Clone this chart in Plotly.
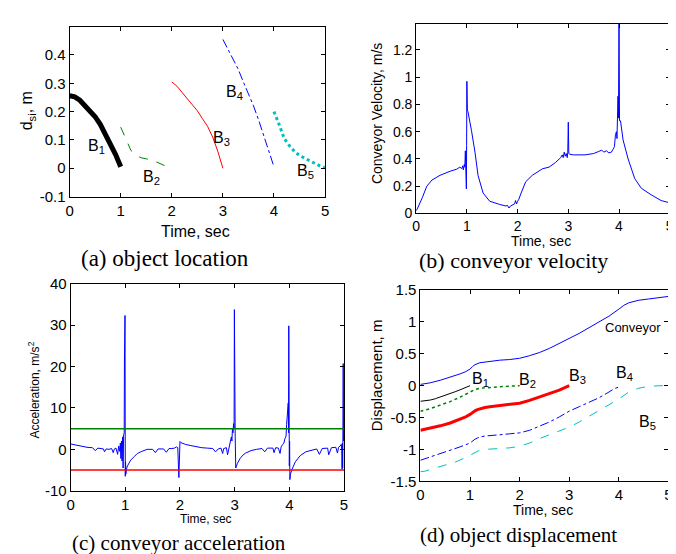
import plotly.graph_objects as go

W, H = 676, 554

# ---- (a) object location ----
b1_t = [0, 0.1, 0.2, 0.3, 0.4, 0.5, 0.6, 0.7, 0.8, 0.9, 1.0]
b1_d = [0.256, 0.252, 0.24, 0.222, 0.203, 0.182, 0.155, 0.122, 0.087, 0.048, 0.005]
b2_t = [1.0, 1.05, 1.1, 1.15, 1.2, 1.3, 1.4, 1.5, 1.6, 1.7, 1.8, 1.9, 2.0]
b2_d = [0.145, 0.125, 0.1, 0.08, 0.063, 0.045, 0.037, 0.033, 0.03, 0.022, 0.013, 0.006, 0.0]
b3_t = [2.0, 2.1, 2.2, 2.3, 2.4, 2.5, 2.6, 2.7, 2.8, 2.9, 3.0]
b3_d = [0.305, 0.29, 0.268, 0.245, 0.225, 0.203, 0.175, 0.148, 0.11, 0.06, 0.0]
b4_t = [3.0, 3.1, 3.2, 3.3, 3.4, 3.5, 3.6, 3.7, 3.8, 3.9, 4.0]
b4_d = [0.455, 0.42, 0.385, 0.35, 0.305, 0.265, 0.22, 0.17, 0.115, 0.06, 0.005]
b5_t = [4.0, 4.05, 4.1, 4.15, 4.2, 4.3, 4.4, 4.5, 4.6, 4.7, 4.8, 4.9, 5.0]
b5_d = [0.2, 0.18, 0.155, 0.13, 0.105, 0.08, 0.06, 0.045, 0.035, 0.025, 0.015, 0.008, 0.002]

# ---- (b) conveyor velocity ----
vel_t = [0, 0.03, 0.12, 0.21, 0.31, 0.47, 0.67, 0.8, 0.86, 0.9, 0.92, 0.93, 0.95, 0.96,
         0.97, 0.98, 0.99, 0.995, 1.0, 1.005, 1.01, 1.02, 1.04, 1.09, 1.16, 1.22, 1.32,
         1.45, 1.64, 1.77, 1.8, 1.83, 1.86, 1.9, 1.94, 1.96, 1.98, 2.0, 2.02, 2.07, 2.16,
         2.29, 2.49, 2.62, 2.75, 2.85, 2.88, 2.9, 2.92, 2.94, 2.96, 2.98, 2.99, 3.0, 3.01,
         3.03, 3.1, 3.33, 3.5, 3.6, 3.66, 3.7, 3.75, 3.8, 3.85, 3.88, 3.91, 3.93, 3.95,
         3.96, 3.97, 3.98, 3.99, 4.0, 4.01, 4.03, 4.08, 4.18, 4.31, 4.44, 4.63, 4.83, 5.0]
vel = [0.02, 0.04, 0.115, 0.2, 0.245, 0.28, 0.31, 0.325, 0.34, 0.33, 0.35, 0.32, 0.36, 0.34,
       0.46, 0.33, 0.18, 0.5, 0.97, 0.6, 0.76, 0.75, 0.7, 0.61, 0.45, 0.28, 0.15,
       0.09, 0.067, 0.055, 0.06, 0.04, 0.055, 0.06, 0.07, 0.095, 0.07, 0.09, 0.1, 0.15, 0.233,
       0.28, 0.328, 0.34, 0.375, 0.41, 0.43, 0.41, 0.45, 0.42, 0.44, 0.41, 0.45, 0.67, 0.44,
       0.435, 0.43, 0.43, 0.44, 0.455, 0.465, 0.45, 0.46, 0.445, 0.45, 0.47, 0.49, 0.58, 0.6,
       0.55, 0.7, 0.86, 0.7, 1.45, 0.68, 0.68, 0.54, 0.40, 0.256, 0.185, 0.138, 0.095, 0.078]

# ---- (c) conveyor acceleration ----
acc_t = [0, 0.1, 0.2, 0.3, 0.4, 0.45, 0.5, 0.55, 0.6, 0.62, 0.65, 0.7, 0.75, 0.78, 0.8,
         0.83, 0.86, 0.88, 0.9, 0.91, 0.92, 0.93, 0.94, 0.95, 0.96, 0.97, 0.98, 0.985,
         0.99, 0.995, 1.0, 1.005, 1.01, 1.02, 1.04, 1.07, 1.1, 1.16, 1.22, 1.3, 1.4, 1.5,
         1.55, 1.6, 1.7, 1.75, 1.8, 1.85, 1.9, 1.94, 1.96, 1.98, 1.99, 2.0, 2.02, 2.1, 2.2,
         2.3, 2.4, 2.5, 2.6, 2.65, 2.7, 2.75, 2.78, 2.8, 2.85, 2.87, 2.9, 2.92, 2.94, 2.95,
         2.96, 2.97, 2.98, 2.99, 2.995, 3.0, 3.005, 3.01, 3.02, 3.05, 3.1, 3.15, 3.2, 3.3,
         3.4, 3.5, 3.55, 3.6, 3.7, 3.72, 3.75, 3.8, 3.83, 3.85, 3.88, 3.9, 3.92, 3.94, 3.95,
         3.96, 3.97, 3.98, 3.985, 3.99, 4.0, 4.005, 4.01, 4.02, 4.05, 4.11, 4.2, 4.3, 4.4,
         4.5, 4.55, 4.6, 4.7, 4.72, 4.77, 4.8, 4.85, 4.88, 4.9, 4.93, 4.95, 4.96, 4.965,
         4.97, 4.975, 4.98, 4.985, 4.99]
acc = [1.3, 1.0, 0.7, 0.5, 0.4, -0.3, 0.3, 0.2, 0.1, -0.6, 0.1, 0.0, 0.2, -0.8, 0.1,
       0.3, -1.2, 0.8, -0.5, 1.5, -2.2, 2.0, -2.8, 3.0, -4.5, 3.5, 4.0, 21.8,
       0.5, 32.3, -6.5, -3.0, -6.0, -4.8, -4.0, -3.2, -2.6, -1.8, -1.0, -0.5, 0.0, 0.0,
       -0.8, 0.1, 0.1, -0.7, 0.2, 0.2, 0.3, 0.6, 0.4, -6.8, 0.5, 1.9, 1.6, 1.2, 0.9,
       0.6, 0.4, 0.3, 0.2, -0.6, 0.1, 0.3, -1.0, 0.2, 0.4, -1.3, 0.8, 1.8, 3.0, 2.0,
       5.0, 4.0, 6.2, 5.0, 33.7, 6.0, 14.3, 3.0, -4.5, -3.4, -2.2, -1.4, -0.9, -0.3,
       0.0, 0.2, -0.6, 0.3, 0.3, -0.8, 0.4, 0.3, -1.0, 0.6, 1.2, 1.5, 2.6, 3.2, 6.0,
       8.5, 10.5, 11.2, 4.0, 29.8, -4.0, 2.0, -7.3, -6.0, -4.8, -3.0, -1.5, -0.6, -0.2,
       0.1, -1.2, 0.2, 0.3, -1.3, 0.4, 0.4, 0.5, -0.9, 0.5, 0.8, 1.2, -0.3, -4.8,
       1.5, -4.5, 3.0, 20.7, 2.0, 20.7]
acc_limits = [5, -5]

# ---- (d) object displacement ----
conv_t = [0, 0.2, 0.4, 0.6, 0.8, 0.9, 1.0, 1.05, 1.1, 1.2, 1.4, 1.6, 1.8, 2.0, 2.2, 2.4,
          2.6, 2.8, 3.0, 3.2, 3.4, 3.6, 3.8, 4.0, 4.1, 4.2, 4.4, 4.6, 4.8, 5.0]
conv_d = [0.02, 0.045, 0.085, 0.13, 0.185, 0.215, 0.26, 0.3, 0.33, 0.36, 0.385, 0.4, 0.41,
          0.43, 0.47, 0.52, 0.585, 0.66, 0.735, 0.82, 0.91, 1.0, 1.09, 1.2, 1.26, 1.3,
          1.34, 1.36, 1.38, 1.40]
d1_t = [0, 0.1, 0.2, 0.3, 0.4, 0.5, 0.6, 0.7, 0.8, 0.9, 1.0]
d1 = [-0.245, -0.24, -0.225, -0.205, -0.18, -0.155, -0.125, -0.095, -0.065, -0.035, 0.0]
d2_t = [0, 0.2, 0.4, 0.6, 0.8, 1.0, 1.1, 1.2, 1.4, 1.6, 1.8, 2.0]
d2 = [-0.4, -0.36, -0.305, -0.25, -0.18, -0.1, -0.06, -0.04, -0.025, -0.015, -0.007, 0.0]
d3_t = [0, 0.2, 0.4, 0.6, 0.8, 0.9, 1.0, 1.05, 1.1, 1.15, 1.2, 1.3, 1.4, 1.6, 1.8, 2.0,
        2.2, 2.4, 2.6, 2.8, 3.0]
d3 = [-0.7, -0.67, -0.63, -0.585, -0.53, -0.495, -0.45, -0.42, -0.395, -0.375, -0.36,
      -0.342, -0.33, -0.315, -0.3, -0.275, -0.23, -0.18, -0.13, -0.07, 0.0]
d4_t = [0, 0.2, 0.4, 0.6, 0.8, 1.0, 1.05, 1.1, 1.15, 1.2, 1.3, 1.4, 1.6, 1.8, 2.0, 2.2,
        2.4, 2.6, 2.8, 3.0, 3.2, 3.4, 3.6, 3.8, 3.9, 4.0]
d4 = [-1.17, -1.12, -1.07, -1.01, -0.96, -0.9, -0.865, -0.84, -0.82, -0.805, -0.79, -0.78,
      -0.77, -0.755, -0.74, -0.7, -0.64, -0.57, -0.49, -0.4, -0.33, -0.26, -0.19, -0.1,
      -0.05, -0.02]
d5_t = [0, 0.1, 0.3, 0.5, 0.7, 0.9, 1.0, 1.05, 1.1, 1.15, 1.2, 1.3, 1.4, 1.6, 1.8, 2.0,
        2.2, 2.4, 2.6, 2.8, 3.0, 3.2, 3.4, 3.6, 3.8, 4.0, 4.2, 4.4, 4.6, 4.8, 5.0]
d5 = [-1.35, -1.34, -1.29, -1.24, -1.2, -1.13, -1.09, -1.06, -1.04, -1.02, -1.01, -1.0,
      -0.995, -0.99, -0.975, -0.95, -0.9, -0.83, -0.77, -0.71, -0.65, -0.57, -0.48,
      -0.39, -0.3, -0.21, -0.1, -0.04, -0.01, 0.0, 0.005]

x_ticks = [0, 1, 2, 3, 4, 5]
a_ticks = [-0.1, 0, 0.1, 0.2, 0.3, 0.4]
a_ticktext = ["-0.1", "0", "0.1", "0.2", "0.3", "0.4"]
b_ticks = [0, 0.2, 0.4, 0.6, 0.8, 1.0, 1.2]
b_ticktext = ["0", "0.2", "0.4", "0.6", "0.8", "1", "1.2"]
c_ticks = [-10, 0, 10, 20, 30, 40]
c_ticktext = ["-10", "0", "10", "20", "30", "40"]
d_ticks = [-1.5, -1, -0.5, 0, 0.5, 1, 1.5]
d_ticktext = ["-1.5", "-1", "-0.5", "0", "0.5", "1", "1.5"]

SANS = "Liberation Sans, Arial, sans-serif"
SERIF = "Liberation Serif, Times New Roman, serif"


def px(x):
    return x / W


def py(y):
    return 1 - y / H


fig = go.Figure()


def line(x, y, ax, color, width=1, dash="solid"):
    fig.add_trace(go.Scatter(x=x, y=y, mode="lines", xaxis="x" + ax, yaxis="y" + ax,
                             line=dict(color=color, width=width, dash=dash),
                             showlegend=False, hoverinfo="skip"))


# (a)
line(b1_t, b1_d, "", "black", 5)
line(b2_t, b2_d, "", "#008000", 1, "dash")
line(b3_t, b3_d, "", "red", 1)
line(b4_t, b4_d, "", "blue", 1, "dashdot")
line(b5_t, b5_d, "", "#00BFBF", 3, "dot")
# (b)
line(vel_t, vel, "2", "blue", 1)
# (c)
line(acc_t, acc, "3", "blue", 1)
line([0, 5], [acc_limits[0]] * 2, "3", "#008000", 1.5)
line([0, 5], [acc_limits[1]] * 2, "3", "red", 1.5)
# (d)
line(conv_t, conv_d, "4", "blue", 1)
line(d1_t, d1, "4", "black", 1)
line(d2_t, d2, "4", "#008000", 1.5, "dot")
line(d3_t, d3, "4", "red", 3)
line(d4_t, d4, "4", "blue", 1, "dashdot")
line(d5_t, d5, "4", "#00BFBF", 1, "dash")


def axis(dom, rng, tv, tt, size, anchor):
    return dict(domain=dom, range=rng, tickvals=tv, ticktext=tt, anchor=anchor,
                showline=True, mirror="ticks", linecolor="black", linewidth=1,
                ticks="inside", ticklen=4, tickcolor="black", showgrid=False,
                zeroline=False, tickfont=dict(family=SANS, size=size, color="black"))


xt = [str(v) for v in x_ticks]
fig.update_layout(
    width=W, height=H, margin=dict(l=0, r=0, t=0, b=0),
    paper_bgcolor="white", plot_bgcolor="white", showlegend=False,
    xaxis=axis([px(58.3), px(316.8)], [0, 5], x_ticks, xt, 15, "y"),
    yaxis=axis([py(185.2), py(10)], [-0.1, 0.5], a_ticks, a_ticktext, 15, "x"),
    xaxis2=axis([px(409), px(665.6)], [0, 5], x_ticks, xt, 14, "y2"),
    yaxis2=axis([py(202.7), py(7.3)], [0, 1.39], b_ticks, b_ticktext, 14, "x2"),
    xaxis3=axis([px(59.3), px(336)], [0, 5], x_ticks, xt, 15, "y3"),
    yaxis3=axis([py(488.8), py(275)], [-10, 40], c_ticks, c_ticktext, 15, "x3"),
    xaxis4=axis([px(413.3), px(664.3)], [0, 5], x_ticks, xt, 15, "y4"),
    yaxis4=axis([py(479), py(281.7)], [-1.5, 1.5], d_ticks, d_ticktext, 15, "x4"),
)


def note(text, x, y, size, family=SANS, angle=0, xanchor="center"):
    fig.add_annotation(text=text, x=px(x), y=py(y), xref="paper", yref="paper",
                       showarrow=False, textangle=angle, xanchor=xanchor, yanchor="middle",
                       font=dict(family=family, size=size, color="black"))


# axis titles
note("Time, sec", 185.5, 221, 16)
note("d<sub>si</sub>, m", 15.5, 97, 16, angle=-90)
note("Time, sec", 535, 231, 14)
note("Conveyor Velocity, m/s", 369.5, 100, 14, angle=-90)
note("Time, sec", 196, 518, 12)
note("Acceleration, m/s<sup>2</sup>", 22.5, 385, 12, angle=-90)
note("Time, sec", 537, 509, 14)
note("Displacement, m", 369, 370, 15, angle=-90)

# curve labels
for txt, x, y in [("B<sub>1</sub>", 75, 134), ("B<sub>2</sub>", 130.7, 166),
                  ("B<sub>3</sub>", 201.7, 125), ("B<sub>4</sub>", 215, 78),
                  ("B<sub>5</sub>", 286, 159),
                  ("B<sub>1</sub>", 463.3, 374), ("B<sub>2</sub>", 511, 375),
                  ("B<sub>3</sub>", 561.7, 371), ("B<sub>4</sub>", 609, 368),
                  ("B<sub>5</sub>", 632.3, 418)]:
    note(txt, x, y, 16, xanchor="left")
note("Conveyor", 597.7, 320.7, 13, xanchor="left")

# captions
note("(a) object location", 154.5, 249, 23, SERIF)
note("(b) conveyor velocity", 507.5, 251, 22, SERIF)
note("(c) conveyor acceleration", 169, 542.5, 21, SERIF)
note("(d) object displacement", 512.5, 534, 21, SERIF)

fig.write_html("out.html")
